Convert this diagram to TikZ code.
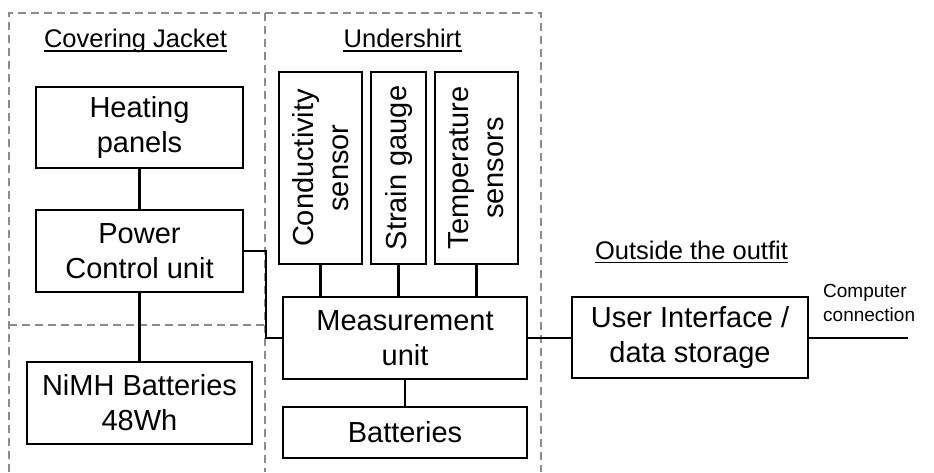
\documentclass[tikz,border=0pt]{standalone}
\usepackage{fontspec}
\setmainfont{Liberation Sans}
\begin{document}
\begin{tikzpicture}[x=1pt,y=-1pt,
  blk/.style={draw,line width=2.4pt,inner sep=0pt,align=center,
    font=\fontsize{29}{35}\selectfont},
  wire/.style={line width=2.4pt},
  zone/.style={draw=gray!90,line width=1.8pt,dash pattern=on 8pt off 5pt},
  heading/.style={inner sep=0pt,anchor=base,font=\fontsize{25.5}{30}\selectfont},
  uline/.style={line width=1.6pt}]
\useasboundingbox (0,0) rectangle (934,472);

% zone outlines
\draw[zone] (9,472) -- (9,13) -- (541,13) -- (541,472);
\draw[zone] (265,13) -- (265,472);
\draw[zone] (9,325) -- (265,325);

% zone headings
\node[heading] (hjack) at (135.5,47.5) {Covering Jacket};
\node[heading] (hshirt) at (402.5,47.5) {Undershirt};
\node[heading] (hout) at (691.5,259) {Outside the outfit};
\foreach \h in {hjack,hshirt,hout}
  \draw[uline] ([yshift=-3.5pt]\h.base west) -- ([yshift=-3.5pt]\h.base east);

% blocks
\node[blk,minimum width=207,minimum height=81] (heat) at (139.5,127.5) {Heating\\panels};
\node[blk,minimum width=207,minimum height=82] (pcu) at (139.5,251) {Power\\Control unit};
\node[blk,minimum width=225,minimum height=82] (nimh) at (139.5,403) {NiMH Batteries\\48Wh};
\node[blk,rotate=90,minimum width=192,minimum height=83] (cond) at (320.5,168) {Conductivity\\sensor};
\node[blk,rotate=90,minimum width=192,minimum height=55] (strain) at (398.5,168) {Strain gauge};
\node[blk,rotate=90,minimum width=192,minimum height=83] (temp) at (476.5,168) {Temperature\\sensors};
\node[blk,minimum width=244,minimum height=82] (meas) at (405,338) {Measurement\\unit};
\node[blk,minimum width=244,minimum height=51] (batt) at (405,432.5) {Batteries};
\node[blk,minimum width=236,minimum height=81] (ui) at (690,337.5) {User Interface /\\data storage};

% external link
\coordinate (pc) at (908,338);
\node[inner sep=0pt,anchor=north west,align=left,
  font=\fontsize{19}{24}\selectfont] (pclabel) at (823,284) {Computer\\connection};

% connectors
\draw[wire] (heat) -- (pcu);
\draw[wire] (pcu) -- (nimh);
\draw[wire] (cond.west) -- (cond.west |- meas.north);
\draw[wire] (strain.west) -- (strain.west |- meas.north);
\draw[wire] (temp.west) -- (temp.west |- meas.north);
\draw[wire] (meas) -- (batt);
\draw[wire] (pcu.east) -- ++(22,0) |- (meas.west);
\draw[wire] (meas.east) -- (meas.east -| ui.west);
\draw[wire] (ui.east |- pc) -- (pc);
\end{tikzpicture}
\end{document}
